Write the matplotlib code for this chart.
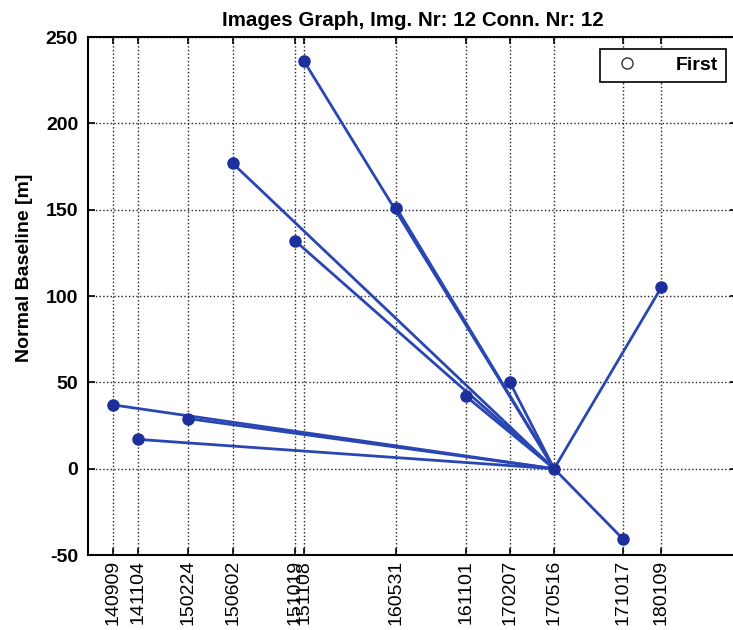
#!/usr/bin/env python3
import matplotlib
matplotlib.use('Agg')
import matplotlib.pyplot as plt
from matplotlib.lines import Line2D
from datetime import datetime

# image acquisition dates (YYMMDD) and normal baselines [m]
dates = ["140909", "141104", "150224", "150602", "151019", "151108",
         "160531", "161101", "170207", "170516", "171017", "180109"]
baselines = [37, 17, 29, 177, 132, 236, 151, 42, 50, 0, -41, 105]
master = "170516"

date_objects = [datetime.strptime(d, "%y%m%d") for d in dates]
m_idx = dates.index(master)

plt.rcParams['font.family'] = ['Liberation Sans', 'DejaVu Sans']
plt.rcParams['axes.unicode_minus'] = False

fig = plt.figure(figsize=(7.33, 6.3), dpi=100)
ax = fig.add_axes([0.12, 0.119, 0.886, 0.822])

# connections: every image to the master
for i, d in enumerate(date_objects):
    if i == m_idx:
        continue
    ax.plot([d, date_objects[m_idx]], [baselines[i], baselines[m_idx]],
            color='#2a46b2', linewidth=2, zorder=2)

ax.plot(date_objects, baselines, linestyle='none', marker='o', markersize=8,
        color='#1c2f9c', zorder=3)

ax.set_xlim(datetime(2014, 7, 16), datetime(2018, 6, 27))
ax.set_ylim(-50, 250)
ax.set_yticks([-50, 0, 50, 100, 150, 200, 250])

ax.set_xticks(date_objects)
ax.set_xticklabels(dates, rotation=90, fontsize=14)
for lbl in ax.get_yticklabels():
    lbl.set_fontweight('bold')
    lbl.set_fontsize(14)

ax.tick_params(direction='in', top=True, right=True, length=5, width=1.2)
ax.tick_params(axis='y', pad=7)
for s in ax.spines.values():
    s.set_linewidth(1.5)

ax.grid(True, linestyle=':', color='#222222', linewidth=1.0)

ax.set_ylabel('Normal Baseline [m]', fontsize=14, fontweight='bold')
ax.yaxis.set_label_coords(-0.085, 0.554)
ax.set_title('Images Graph, Img. Nr: 12 Conn. Nr: 12', fontsize=14.8,
             fontweight='bold', pad=8)

proxy = Line2D([], [], linestyle='none', marker='o', markerfacecolor='white',
               markeredgecolor='#333333', markersize=8)
leg = ax.legend([proxy], ['First'], loc='upper right',
                prop={'weight': 'bold', 'size': 14}, fancybox=False,
                edgecolor='black', framealpha=1, borderpad=0.4,
                handletextpad=1.5, borderaxespad=0.6)
leg.get_frame().set_linewidth(1.2)

plt.savefig('out.png', dpi=100)
